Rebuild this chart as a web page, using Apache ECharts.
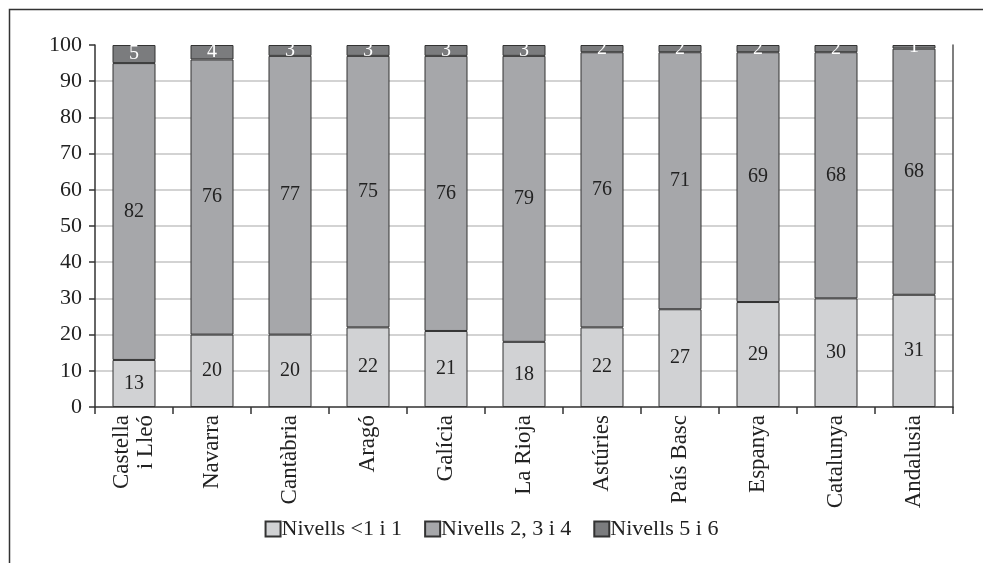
<!DOCTYPE html>
<html>
<head>
<meta charset="utf-8">
<script src="https://cdn.jsdelivr.net/npm/echarts@6/dist/echarts.min.js"></script>
<style>
html,body{margin:0;padding:0;background:#fff;}
#chart{width:983px;height:563px;}
</style>
</head>
<body>
<div id="chart"></div>
<script>
const categories = ['Castella\ni Lleó','Navarra','Cantàbria','Aragó','Galícia','La Rioja','Astúries','País Basc','Espanya','Catalunya','Andalusia'];
const seriesNames = ['Nivells <1 i 1','Nivells 2, 3 i 4','Nivells 5 i 6'];
const low = [13,20,20,22,21,18,22,27,29,30,31];
const mid = [82,76,77,75,76,79,76,71,69,68,68];
const high = [5,4,3,3,3,3,2,2,2,2,1];
const yTicks = {min:0, max:100, interval:10};

const FONT = 'Liberation Serif';
const colors = ['#d1d2d4','#a6a7aa','#7b7c7e'];
const labelColors = ['#222','#222','#fff'];

const chart = echarts.init(document.getElementById('chart'), null, {renderer:'canvas'});
const mk = (name, data, i) => ({
  name, type:'bar', stack:'total', data, barWidth:43,
  itemStyle:{color:colors[i], borderColor:'#333', borderWidth:1},
  label:{show:true, position:'inside', color:labelColors[i], fontFamily:FONT, fontSize:20},
  emphasis:{disabled:true}, animation:false
});
chart.setOption({
  animation:false,
  graphic:[{type:'rect', shape:{x:9.5,y:9.5,width:1100,height:700}, style:{fill:null, stroke:'#333', lineWidth:1.5}, silent:true}],
  grid:{left:95, right:30, top:45, bottom:156},
  legend:{
    data:seriesNames, bottom:18, left:'center', itemWidth:15, itemHeight:15, itemGap:22,
    icon:'rect',
    textStyle:{fontFamily:FONT, fontSize:22, color:'#222', padding:[0,0,0,-4]}
  },
  xAxis:{
    type:'category', data:categories,
    axisLine:{lineStyle:{color:'#333', width:1.5}},
    axisTick:{show:true, length:7, alignWithLabel:false, lineStyle:{color:'#333', width:1.5}},
    axisLabel:{rotate:90, fontFamily:FONT, fontSize:23, color:'#222', margin:8, lineHeight:24, interval:0}
  },
  yAxis:[{
    type:'value', min:yTicks.min, max:yTicks.max, interval:yTicks.interval,
    axisLine:{show:true, lineStyle:{color:'#333', width:1.5}},
    axisTick:{show:true, length:6, lineStyle:{color:'#333', width:1.5}},
    axisLabel:{fontFamily:FONT, fontSize:22, color:'#222', margin:13},
    splitLine:{show:true, showMinLine:false, showMaxLine:false, lineStyle:{color:'#c4c4c4', width:1.5}}
  },{
    type:'value', min:yTicks.min, max:yTicks.max, interval:yTicks.interval, position:'right',
    axisLine:{show:true, lineStyle:{color:'#555', width:1.5}},
    axisTick:{show:false}, axisLabel:{show:false}, splitLine:{show:false}
  }],
  series:[mk(seriesNames[0], low, 0), mk(seriesNames[1], mid, 1), mk(seriesNames[2], high, 2)]
});
</script>
</body>
</html>
